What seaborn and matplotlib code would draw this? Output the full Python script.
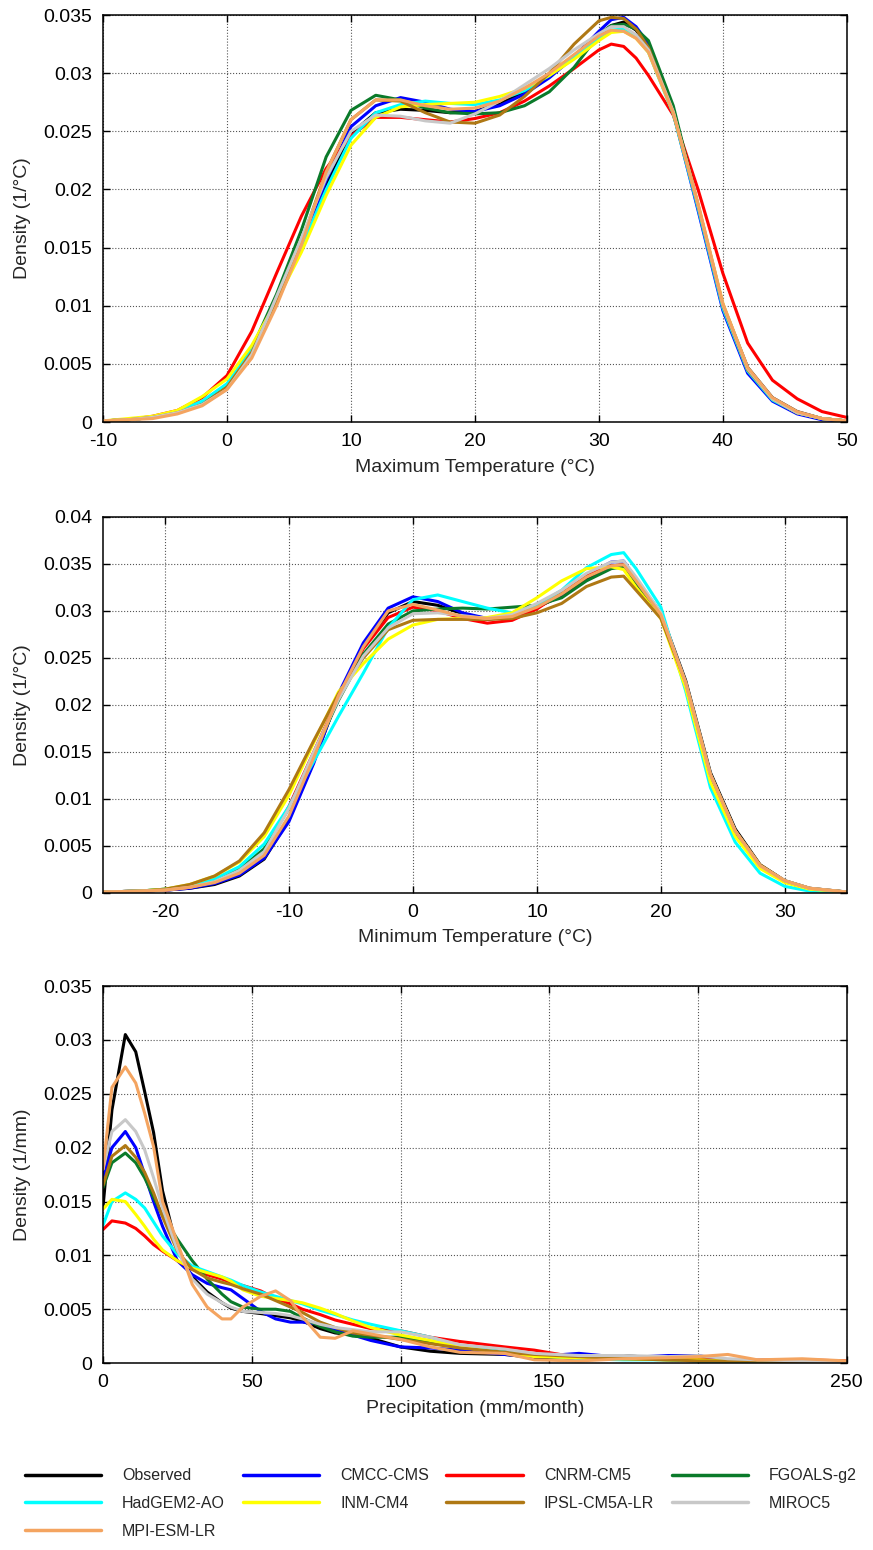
import pandas as pd
import matplotlib
matplotlib.use('Agg')
import matplotlib.pyplot as plt
import seaborn as sns
from matplotlib.lines import Line2D
from matplotlib.ticker import FormatStrFormatter, MultipleLocator

# series names and colours
models = ['Observed', 'CMCC-CMS', 'CNRM-CM5', 'FGOALS-g2', 'HadGEM2-AO',
          'INM-CM4', 'IPSL-CM5A-LR', 'MIROC5', 'MPI-ESM-LR']
colors = ['#000000', '#0000FF', '#FF0000', '#0A7A2A', '#00FFFF',
          '#FFFF00', '#AF7814', '#C8C8C8', '#F4A460']

# ---- Maximum temperature densities ----
tmax_x = [-10, -8, -6, -4, -2, 0, 2, 4, 6, 8, 10, 12, 14, 16, 18, 20, 22, 24, 26, 28,
          30, 31, 32, 33, 34, 36, 38, 40, 42, 44, 46, 48, 50]
tmax_obs = [.0001, .0002, .0004, .0008, .0016, .0031, .0060, .0103, .0150, .0203, .0248, .0266, .0269, .0268, .0266, .0267,
            .0274, .0284, .0298, .0315, .0333, .0341, .0344, .0337, .0322, .0267, .0186, .0101, .0047, .0021, .0009, .0003, .0001]
tmax_cmcc = [.0001, .0002, .0004, .0008, .0017, .0032, .0062, .0105, .0152, .0208, .0254, .0272, .0279, .0275, .0269, .0267,
             .0272, .0282, .0296, .0314, .0336, .0346, .0348, .0340, .0325, .0266, .0182, .0096, .0042, .0018, .0007, .0002, .0001]
tmax_cnrm = [.0001, .0002, .0005, .0010, .0021, .0040, .0078, .0128, .0177, .0218, .0246, .0262, .0262, .0260, .0258, .0261,
             .0266, .0276, .0289, .0304, .0320, .0325, .0323, .0313, .0298, .0264, .0200, .0128, .0068, .0036, .0020, .0009, .0004]
tmax_fgoals = [.0001, .0002, .0004, .0008, .0016, .0031, .0063, .0110, .0165, .0228, .0268, .0281, .0277, .0270, .0266, .0265,
               .0266, .0272, .0284, .0305, .0333, .0341, .0342, .0338, .0328, .0272, .0186, .0100, .0045, .0020, .0008, .0003, .0001]
tmax_hadgem = [.0001, .0002, .0004, .0009, .0018, .0033, .0062, .0105, .0150, .0200, .0244, .0266, .0273, .0276, .0274, .0273,
               .0277, .0285, .0298, .0314, .0330, .0337, .0338, .0331, .0318, .0265, .0184, .0098, .0044, .0019, .0008, .0003, .0001]
tmax_inm = [.0001, .0003, .0005, .0010, .0022, .0037, .0066, .0104, .0146, .0195, .0238, .0262, .0271, .0273, .0274, .0275,
            .0280, .0287, .0298, .0312, .0328, .0335, .0336, .0330, .0318, .0266, .0187, .0102, .0046, .0020, .0008, .0003, .0001]
tmax_ipsl = [.0001, .0002, .0004, .0008, .0015, .0030, .0060, .0105, .0155, .0215, .0260, .0277, .0276, .0266, .0258, .0257,
             .0264, .0280, .0300, .0325, .0345, .0348, .0347, .0338, .0322, .0266, .0186, .0100, .0045, .0020, .0008, .0003, .0001]
tmax_miroc = [.0001, .0002, .0004, .0008, .0015, .0028, .0058, .0108, .0158, .0210, .0250, .0264, .0263, .0259, .0257, .0265,
              .0276, .0290, .0304, .0320, .0334, .0340, .0340, .0333, .0320, .0267, .0187, .0101, .0046, .0020, .0008, .0003, .0001]
tmax_mpi = [.0001, .0002, .0003, .0007, .0014, .0028, .0055, .0100, .0152, .0215, .0260, .0277, .0277, .0272, .0269, .0270,
            .0276, .0287, .0300, .0316, .0332, .0337, .0336, .0330, .0318, .0266, .0188, .0102, .0047, .0021, .0009, .0003, .0001]

# ---- Minimum temperature densities ----
tmin_x = [-25, -22, -20, -18, -16, -14, -12, -10, -8, -6, -4, -2, 0, 2, 4, 6, 8, 10, 12, 14,
          16, 17, 18, 20, 22, 24, 26, 28, 30, 32, 35]
tmin_obs = [.0001, .0002, .0003, .0005, .0009, .0018, .0036, .0078, .0140, .0210, .0262, .0298, .0310, .0306, .0297,
            .0291, .0294, .0304, .0316, .0334, .0348, .0349, .0333, .0298, .0226, .0128, .0068, .0030, .0013, .0005, .0001]
tmin_cmcc = [.0001, .0002, .0003, .0005, .0010, .0019, .0037, .0076, .0138, .0212, .0266, .0303, .0315, .0310, .0298,
             .0292, .0294, .0304, .0318, .0338, .0352, .0353, .0334, .0296, .0222, .0124, .0064, .0028, .0012, .0004, .0001]
tmin_cnrm = [.0001, .0002, .0003, .0006, .0012, .0024, .0045, .0092, .0150, .0208, .0260, .0293, .0304, .0300, .0292,
             .0287, .0290, .0302, .0320, .0338, .0348, .0349, .0330, .0295, .0222, .0124, .0064, .0028, .0012, .0004, .0001]
tmin_fgoals = [.0001, .0002, .0004, .0007, .0013, .0025, .0047, .0090, .0148, .0205, .0254, .0286, .0300, .0302, .0303,
               .0302, .0304, .0306, .0314, .0332, .0345, .0347, .0330, .0295, .0222, .0124, .0064, .0028, .0012, .0004, .0001]
tmin_hadgem = [.0001, .0002, .0004, .0008, .0015, .0028, .0052, .0092, .0140, .0188, .0234, .0282, .0312, .0317, .0310,
               .0303, .0298, .0306, .0322, .0346, .0360, .0362, .0345, .0304, .0215, .0112, .0054, .0021, .0007, .0002, .0001]
tmin_inm = [.0001, .0002, .0004, .0009, .0018, .0033, .0060, .0104, .0160, .0214, .0244, .0270, .0285, .0291, .0292,
            .0293, .0298, .0314, .0332, .0345, .0347, .0344, .0325, .0292, .0218, .0118, .0060, .0026, .0011, .0004, .0001]
tmin_ipsl = [.0001, .0002, .0004, .0009, .0018, .0034, .0064, .0110, .0162, .0212, .0250, .0280, .0290, .0291, .0291,
             .0291, .0292, .0298, .0308, .0326, .0336, .0337, .0322, .0292, .0224, .0126, .0066, .0030, .0013, .0005, .0001]
tmin_miroc = [.0001, .0002, .0003, .0006, .0012, .0024, .0044, .0090, .0150, .0206, .0252, .0282, .0297, .0298, .0295,
              .0292, .0296, .0308, .0322, .0340, .0352, .0353, .0336, .0298, .0224, .0126, .0066, .0029, .0013, .0005, .0001]
tmin_mpi = [.0001, .0002, .0003, .0006, .0011, .0021, .0040, .0082, .0144, .0210, .0262, .0300, .0307, .0301, .0294,
            .0292, .0294, .0304, .0318, .0336, .0348, .0349, .0332, .0296, .0224, .0126, .0066, .0029, .0013, .0005, .0001]

# ---- Precipitation densities ----
pr_x = [0, 3, 7.5, 11, 14, 17, 20, 25, 30, 35, 40, 43, 47, 53, 58, 63, 67, 73, 78, 84,
        90, 100, 110, 120, 135, 145, 160, 175, 190, 200, 210, 220, 235, 250]
pr_obs = [.0145, .0235, .0305, .0289, .0252, .0214, .0160, .0105, .0080, .0066, .0056, .0051, .0048, .0046, .0044, .0042, .0039,
          .0032, .0028, .0026, .0023, .0015, .0011, .0009, .0008, .0005, .0004, .0007, .0004, .0003, .0002, .0002, .0001, .0001]
pr_cmcc = [.0172, .0200, .0215, .0200, .0175, .0150, .0127, .0095, .0082, .0074, .0070, .0068, .0060, .0048, .0041, .0038, .0038,
           .0036, .0031, .0026, .0021, .0015, .0014, .0012, .0008, .0006, .0009, .0005, .0007, .0007, .0002, .0002, .0001, .0001]
pr_cnrm = [.0124, .0132, .0130, .0125, .0118, .0110, .0104, .0095, .0087, .0082, .0078, .0075, .0072, .0067, .0060, .0055, .0050,
           .0045, .0040, .0036, .0032, .0030, .0024, .0020, .0015, .0012, .0005, .0004, .0003, .0003, .0003, .0003, .0003, .0002]
pr_fgoals = [.0163, .0186, .0195, .0186, .0172, .0154, .0137, .0115, .0095, .0078, .0064, .0057, .0052, .0050, .0050, .0048, .0042,
             .0034, .0029, .0025, .0024, .0024, .0019, .0015, .0011, .0008, .0005, .0005, .0003, .0002, .0002, .0002, .0001, .0001]
pr_hadgem = [.0128, .0150, .0158, .0152, .0144, .0131, .0118, .0101, .0090, .0085, .0080, .0077, .0072, .0066, .0062, .0058, .0055,
             .0049, .0045, .0040, .0036, .0030, .0024, .0016, .0010, .0007, .0004, .0003, .0003, .0002, .0002, .0002, .0001, .0001]
pr_inm = [.0143, .0152, .0150, .0138, .0127, .0115, .0105, .0095, .0088, .0084, .0080, .0076, .0068, .0062, .0060, .0058, .0056,
          .0051, .0046, .0039, .0033, .0026, .0021, .0015, .0009, .0006, .0005, .0004, .0003, .0003, .0002, .0002, .0001, .0001]
pr_ipsl = [.0165, .0192, .0202, .0191, .0177, .0158, .0136, .0104, .0087, .0079, .0075, .0073, .0069, .0064, .0058, .0052, .0047,
           .0038, .0033, .0028, .0026, .0022, .0018, .0014, .0010, .0008, .0006, .0004, .0003, .0002, .0002, .0002, .0001, .0001]
pr_miroc = [.0180, .0215, .0226, .0215, .0198, .0172, .0144, .0105, .0078, .0064, .0056, .0052, .0048, .0047, .0046, .0044, .0041,
            .0036, .0033, .0031, .0029, .0029, .0024, .0017, .0013, .0009, .0007, .0007, .0006, .0007, .0004, .0003, .0002, .0001]
pr_mpi = [.0180, .0256, .0275, .0260, .0232, .0201, .0150, .0112, .0073, .0052, .0041, .0041, .0052, .0062, .0067, .0058, .0043,
          .0024, .0023, .0030, .0027, .0022, .0015, .0010, .0009, .0003, .0002, .0004, .0005, .0006, .0008, .0003, .0004, .0002]

sns.set_theme(style='white')
plt.rcParams['font.family'] = ['Liberation Sans', 'DejaVu Sans']
plt.rcParams['axes.unicode_minus'] = False

palette = dict(zip(models, colors))


def long_frame(x, series):
    rows = []
    for name, vals in zip(models, series):
        for xv, yv in zip(x, vals):
            rows.append({'x': xv, 'density': yv, 'model': name})
    return pd.DataFrame(rows)


def draw_panel(ax, df, xlim, xstep, ymax, xlabel, ylabel):
    sns.lineplot(data=df, x='x', y='density', hue='model', hue_order=models,
                 palette=palette, linewidth=2.2, legend=False, ax=ax,
                 estimator=None)
    ax.set_xlim(*xlim)
    ax.set_ylim(0, ymax)
    ax.xaxis.set_major_locator(MultipleLocator(xstep))
    ax.yaxis.set_major_locator(MultipleLocator(0.005))
    ax.yaxis.set_major_formatter(FormatStrFormatter('%g'))
    ax.set_axisbelow(True)
    ax.grid(True, linestyle=':', color='#555555', linewidth=0.8)
    ax.tick_params(direction='in', bottom=True, left=True, top=True, right=True,
                   length=5, width=1, labelsize=14, colors='black', pad=8)
    for sp in ax.spines.values():
        sp.set_color('black')
        sp.set_linewidth(1.1)
    ax.set_xlabel(xlabel, fontsize=14, labelpad=6)
    ax.set_ylabel(ylabel, fontsize=14)
    ax.yaxis.set_label_coords(-0.097, 0.5)


fig = plt.figure(figsize=(8.73, 15.5), dpi=100)
ax1 = fig.add_axes([0.118, 0.7277, 0.852, 0.2626])
ax2 = fig.add_axes([0.118, 0.4239, 0.852, 0.2426])
ax3 = fig.add_axes([0.118, 0.1206, 0.852, 0.2432])

tmax_df = long_frame(tmax_x, [tmax_obs, tmax_cmcc, tmax_cnrm, tmax_fgoals, tmax_hadgem,
                              tmax_inm, tmax_ipsl, tmax_miroc, tmax_mpi])
tmin_df = long_frame(tmin_x, [tmin_obs, tmin_cmcc, tmin_cnrm, tmin_fgoals, tmin_hadgem,
                              tmin_inm, tmin_ipsl, tmin_miroc, tmin_mpi])
pr_df = long_frame(pr_x, [pr_obs, pr_cmcc, pr_cnrm, pr_fgoals, pr_hadgem,
                          pr_inm, pr_ipsl, pr_miroc, pr_mpi])

draw_panel(ax1, tmax_df, (-10, 50), 10, 0.035, 'Maximum Temperature (°C)', 'Density (1/°C)')
draw_panel(ax2, tmin_df, (-25, 35), 10, 0.04, 'Minimum Temperature (°C)', 'Density (1/°C)')
draw_panel(ax3, pr_df, (0, 250), 50, 0.035, 'Precipitation (mm/month)', 'Density (1/mm)')

# legend: matplotlib fills columns first, so reorder to get the row layout
order = [0, 4, 8, 1, 5, 2, 6, 3, 7]
handles = [Line2D([], [], color=colors[i], linewidth=2.5) for i in order]
labels = [models[i] for i in order]
fig.legend(handles, labels, loc='center', bbox_to_anchor=(0.505, 0.030), ncol=4,
           frameon=False, fontsize=11.5, handlelength=4.8, handletextpad=1.3,
           columnspacing=1.1, labelspacing=0.8)

fig.savefig('out.png', dpi=100)
